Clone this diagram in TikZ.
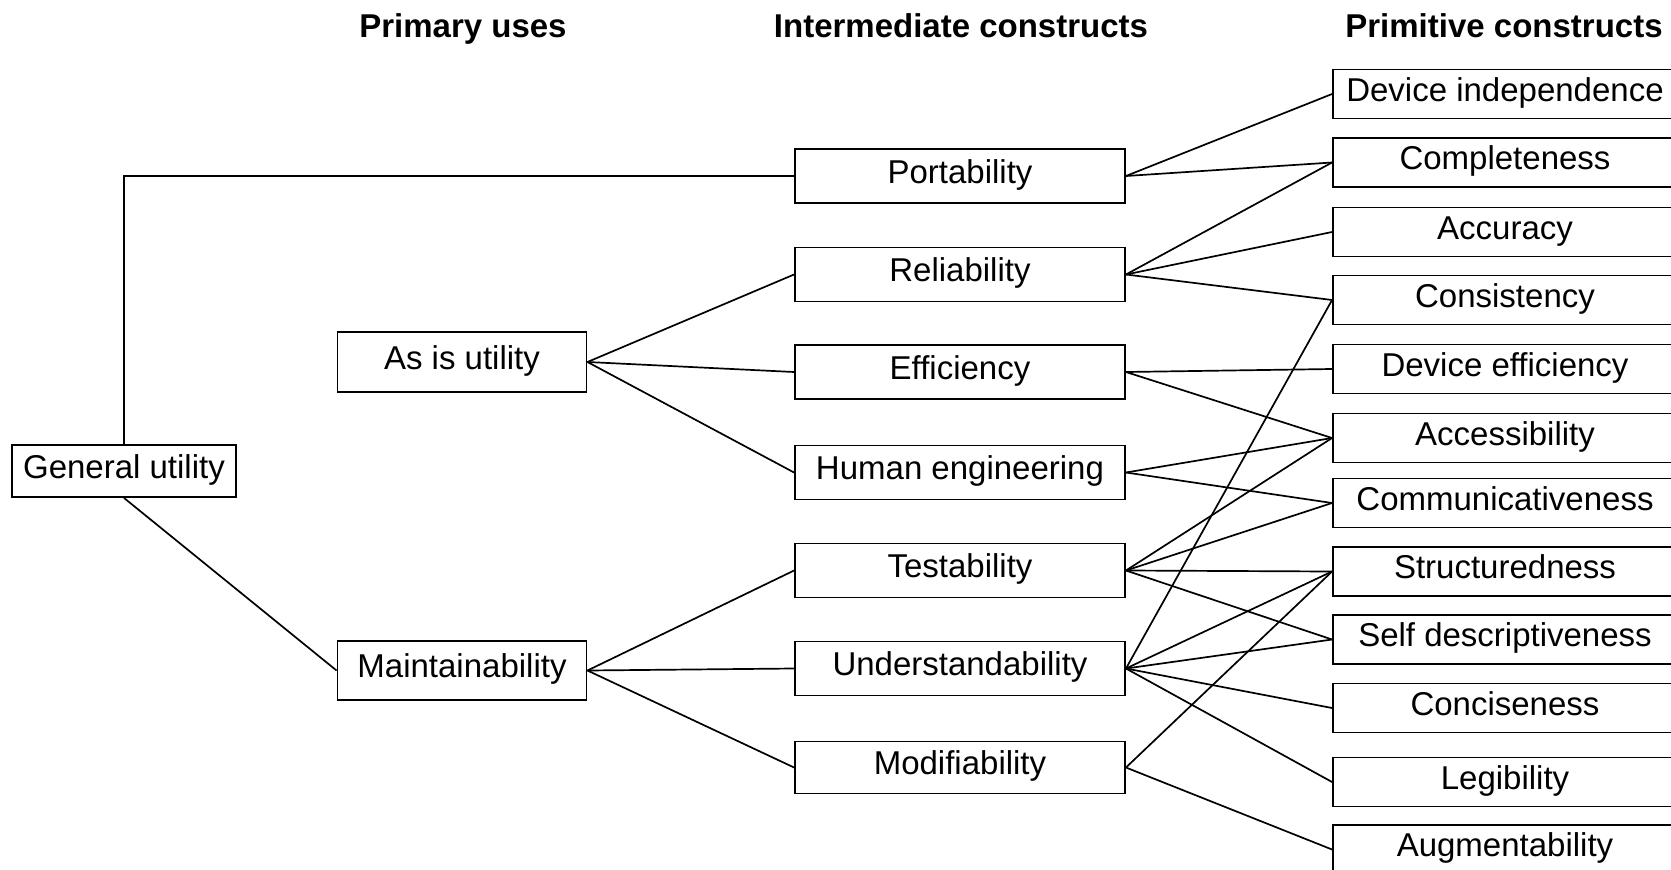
\documentclass[tikz,border=0pt]{standalone}
\usepackage{fontspec}
\setmainfont{Liberation Sans}
\begin{document}
\begin{tikzpicture}[x=1pt,y=-1pt,
  box/.style={draw=black, line width=1.9pt, inner sep=0pt, fill=white,
    font=\fontsize{33}{40}\selectfont, text height=24pt, text depth=10pt, align=center},
  ibox/.style={box, minimum width=330pt, minimum height=54pt},
  pbox/.style={box, minimum width=344pt, minimum height=49pt},
  ubox/.style={box, minimum width=249pt, minimum height=60pt},
  ttl/.style={font=\bfseries\fontsize{33}{40}\selectfont, inner sep=0pt, anchor=base},
  con/.style={line width=1.7pt}]
\clip (0,0) rectangle (1671,870);
% titles
\node[ttl] (t1) at (463,37) {Primary uses};
\node[ttl] (t2) at (961,37) {Intermediate constructs};
\node[ttl] (t3) at (1504,37) {Primitive constructs};
% left
\node[box, minimum width=224pt, minimum height=52pt] (gu) at (124,471) {General utility};
\node[ubox] (as) at (462,362) {As is utility};
\node[ubox, minimum height=59pt] (mt) at (462,670.5) {Maintainability};
% intermediate
\node[ibox] (port) at (960,176) {Portability};
\node[ibox] (rel) at (960,274.5) {Reliability};
\node[ibox] (eff) at (960,372) {Efficiency};
\node[ibox] (hum) at (960,472.5) {Human engineering};
\node[ibox] (tst) at (960,570.5) {Testability};
\node[ibox] (und) at (960,668.5) {Understandability};
\node[ibox, minimum height=52pt] (mod) at (960,767.5) {Modifiability};
% primitive
\node[pbox] (di) at (1505,94) {Device independence};
\node[pbox] (cpl) at (1505,162.5) {Completeness};
\node[pbox] (acu) at (1505,232) {Accuracy};
\node[pbox] (cns) at (1505,300) {Consistency};
\node[pbox] (de) at (1505,369) {Device efficiency};
\node[pbox] (acc) at (1505,438) {Accessibility};
\node[pbox] (com) at (1505,503) {Communicativeness};
\node[pbox] (str) at (1505,571.5) {Structuredness};
\node[pbox] (sd) at (1505,639.5) {Self descriptiveness};
\node[pbox] (cnc) at (1505,708) {Conciseness};
\node[pbox] (leg) at (1505,782) {Legibility};
\node[pbox] (aug) at (1505,849.5) {Augmentability};
% connectors left
\draw[con] (gu.north) |- (port.west);
\draw[con] (gu.south) -- (mt.west);
\draw[con] (as.east) -- (rel.west);
\draw[con] (as.east) -- (eff.west);
\draw[con] (as.east) -- (hum.west);
\draw[con] (mt.east) -- (tst.west);
\draw[con] (mt.east) -- (und.west);
\draw[con] (mt.east) -- (mod.west);
% connectors right
\draw[con] (port.east) -- (di.west);
\draw[con] (port.east) -- (cpl.west);
\draw[con] (rel.east) -- (cpl.west);
\draw[con] (rel.east) -- (acu.west);
\draw[con] (rel.east) -- (cns.west);
\draw[con] (eff.east) -- (de.west);
\draw[con] (eff.east) -- (acc.west);
\draw[con] (hum.east) -- (acc.west);
\draw[con] (hum.east) -- (com.west);
\draw[con] (tst.east) -- (acc.west);
\draw[con] (tst.east) -- (com.west);
\draw[con] (tst.east) -- (str.west);
\draw[con] (tst.east) -- (sd.west);
\draw[con] (und.east) -- (cns.west);
\draw[con] (und.east) -- (str.west);
\draw[con] (und.east) -- (sd.west);
\draw[con] (und.east) -- (cnc.west);
\draw[con] (und.east) -- (leg.west);
\draw[con] (mod.east) -- (str.west);
\draw[con] (mod.east) -- (aug.west);
\end{tikzpicture}
\end{document}
